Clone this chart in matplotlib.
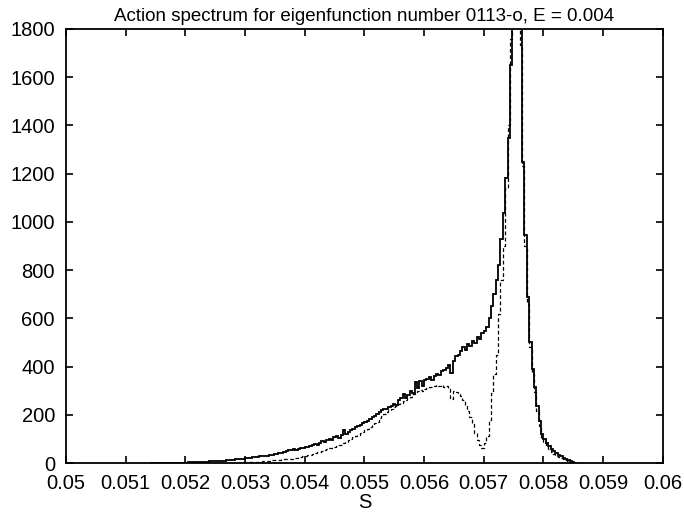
import numpy as np
import matplotlib
matplotlib.use('Agg')
import matplotlib.pyplot as plt

# histogram bins: width 0.00004, first edge at 0.0514
bin_width = 0.00004
first_edge = 0.0514

# solid curve, one value per bin
solid = [
    0, 0, 0, 0, 1, 1, 1, 1, 1, 1, 1, 2, 2, 2, 2, 2, 3, 3,
    3, 4, 4, 5, 5, 6, 6, 7, 7, 8, 8, 9, 10, 10, 11, 12, 13, 14, 15, 16, 17, 18,
    19, 20, 22, 23, 24, 26, 27, 28, 30, 31, 33, 35, 36, 38, 40, 42, 45, 48, 52,
    55, 57, 56, 60, 62, 64, 68, 66, 71, 74, 78, 76, 84, 90, 88, 95, 100, 96, 106,
    110, 104, 118, 135, 122, 128, 136, 140, 150, 155, 158, 165, 170, 176, 182,
    190, 196, 203,
    211, 218, 222, 225, 232, 238, 245, 240, 262, 268, 288, 270, 282, 300, 290,
    335, 310, 340, 320, 345, 350, 358, 345, 362, 370, 365, 380, 385, 395, 405,
    372, 425, 445, 450,
    465, 480, 470, 492, 485, 505, 498, 522, 515, 540, 548, 563, 600, 650, 700,
    760, 820, 930, 1036, 1180, 1350, 1650,
    2400, 2400, 2400, 2400,
    1250, 946, 690, 500, 390, 315, 235, 175, 120, 100, 85, 72, 60, 50, 42, 35,
    28, 22, 17, 12, 7, 3,
    0,
]

# dashed curve, same bins
dashed = [
    0, 0, 0, 0, 0, 0, 0, 0, 0, 0, 0, 0, 0, 0, 0, 0, 0, 0, 0, 0, 0, 0, 0, 0, 0,
    0, 0, 0,
    0, 0, 1, 1, 1, 1, 2, 2, 2, 2, 3, 3, 3, 4, 4, 5, 5, 6, 6, 7, 8, 9, 10, 11, 12,
    13, 14, 15, 16, 17, 18,
    18, 20, 22, 24, 26, 28, 30, 32, 35, 38, 41, 44, 47, 50, 54, 57, 61, 64, 67,
    70, 73,
    76, 82, 88, 94, 100, 106, 112, 118, 124, 130, 136, 142, 148, 156, 164, 172,
    185, 195, 204, 210, 218, 226, 234, 238, 245, 250, 256, 260, 268, 274, 286,
    292, 298, 304, 300, 308, 310, 316, 314, 320, 324, 318, 322, 316, 320, 306,
    266, 300, 294, 290,
    279, 260, 240, 215, 190, 160, 125, 95, 75, 62, 85, 110, 180, 290, 370, 450,
    620, 760, 900, 1140, 1400, 1760,
    2400, 2400, 2400, 1734,
    1230, 900, 660, 480, 370, 295, 215, 155, 105, 85, 70, 58, 47, 38, 31, 25,
    20, 15, 11, 8, 5, 2,
    0,
]

x_ticks = [0.05, 0.051, 0.052, 0.053, 0.054, 0.055, 0.056, 0.057, 0.058, 0.059, 0.06]
x_labels = ['0.05', '0.051', '0.052', '0.053', '0.054', '0.055', '0.056',
            '0.057', '0.058', '0.059', '0.06']
y_ticks = [0, 200, 400, 600, 800, 1000, 1200, 1400, 1600, 1800]

edges = first_edge + bin_width * np.arange(len(solid) + 1)

plt.rcParams['font.family'] = ['Liberation Sans', 'DejaVu Sans']

fig = plt.figure(figsize=(6.84, 5.16), dpi=100)
ax = fig.add_axes([0.0965, 0.1027, 0.8725, 0.8411])

ax.stairs(dashed, edges, color='black', lw=0.9, linestyle=(0, (3, 2)), baseline=None)
ax.stairs(solid, edges, color='black', lw=1.3, baseline=None)

ax.set_xlim(0.05, 0.06)
ax.set_ylim(0, 1800)
ax.set_xticks(x_ticks)
ax.set_xticklabels(x_labels)
ax.set_yticks(y_ticks)
ax.tick_params(direction='in', top=True, right=True, length=5, width=1.2,
               labelsize=14.5)
ax.tick_params(axis='x', pad=8)
ax.tick_params(axis='y', pad=8)
for s in ax.spines.values():
    s.set_linewidth(1.3)

ax.set_xlabel('S', fontsize=14.5, labelpad=0)
ax.set_title('Action spectrum for eigenfunction number 0113-o, E = 0.004',
             fontsize=13.5, pad=6)

fig.savefig('out.png', dpi=100)
